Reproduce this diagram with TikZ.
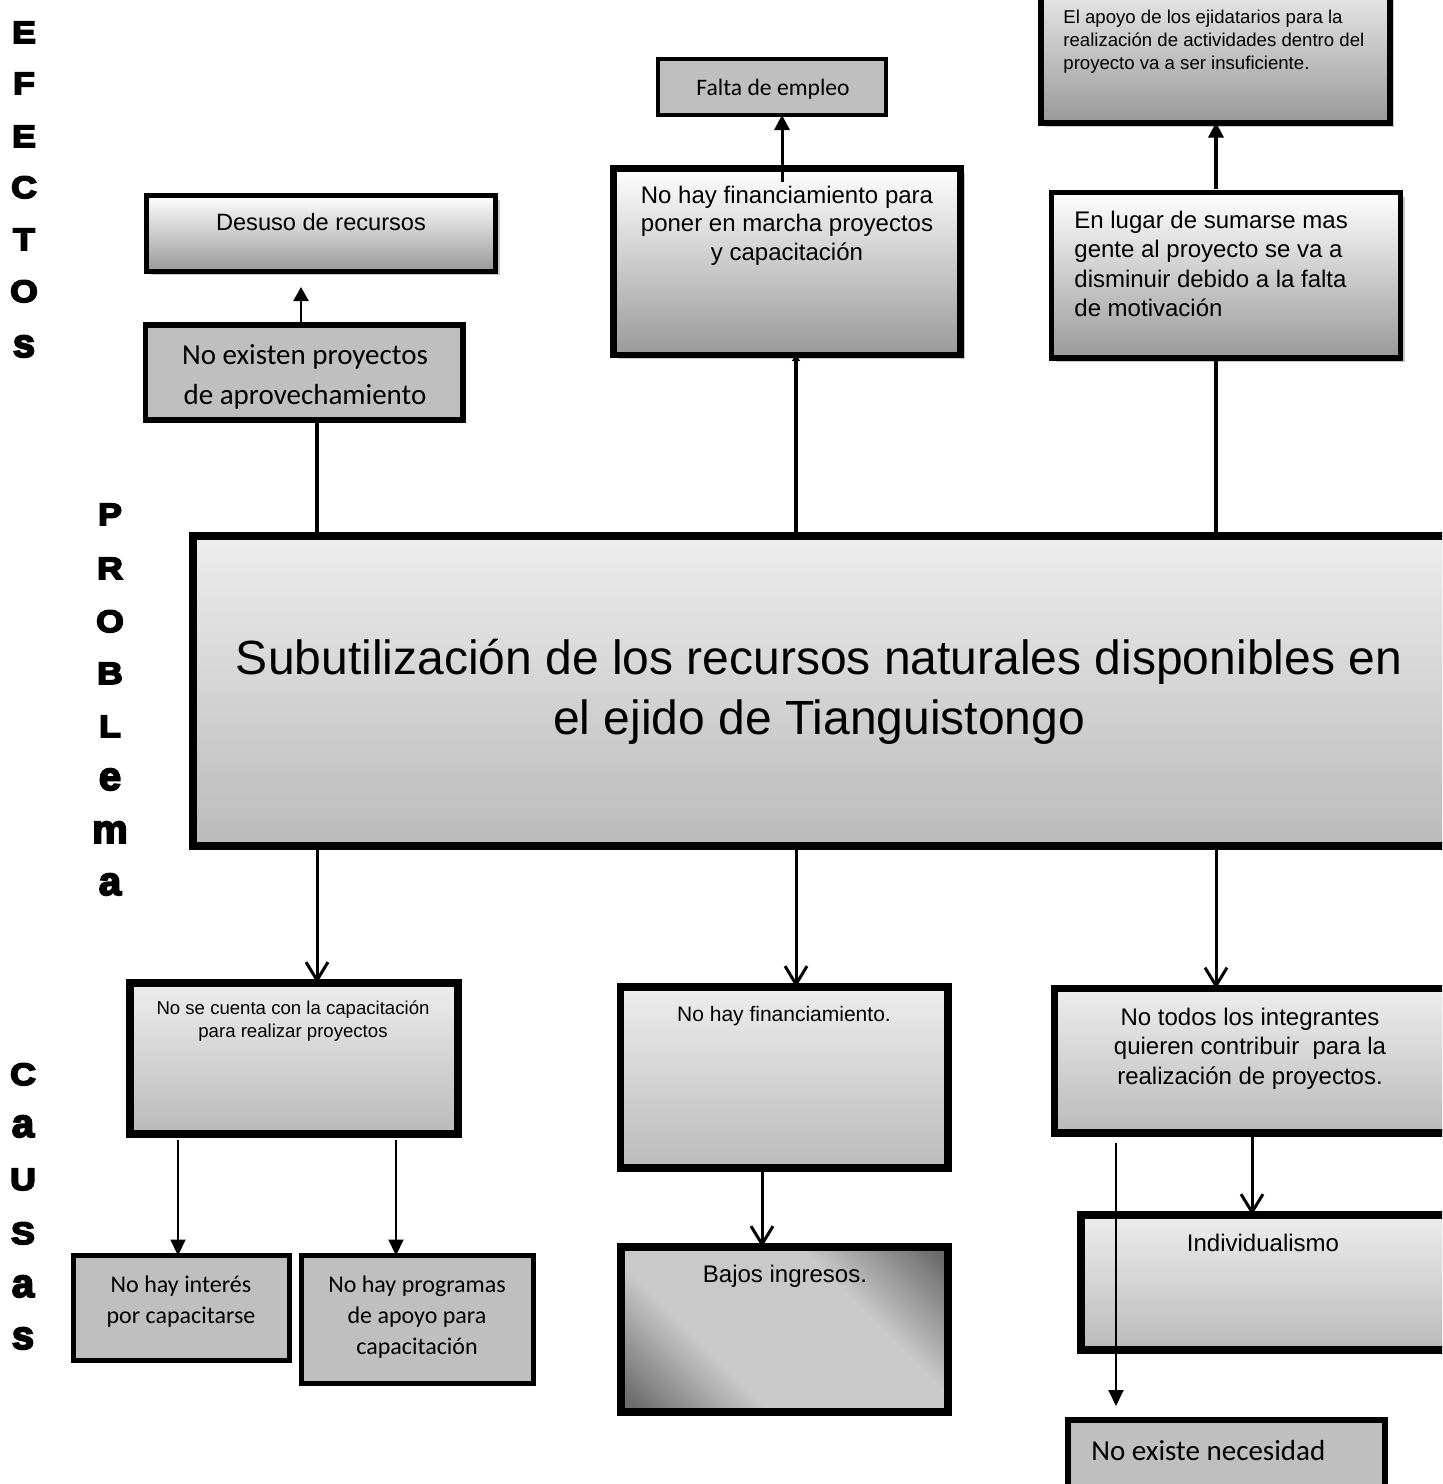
\documentclass[tikz,border=0pt]{standalone}
\usepackage{fontspec}
\setmainfont{Liberation Sans}
\newfontfamily\calfont{Carlito}
\newfontfamily\heavyfont{Liberation Sans}[BoldFeatures={FakeBold=5.5,FakeStretch=1.15}]
\newfontfamily\heavylow{Liberation Sans}[BoldFeatures={FakeBold=4.5}]
\usetikzlibrary{arrows.meta,calc,fit,shadows}
\newcommand\mylines[2][c]{\begin{tabular}[t]{@{}#1@{}}#2\end{tabular}}
\newcommand\setfs[2]{\fontsize{#1pt}{#2pt}\selectfont}
\pgfdeclareverticalshading{bajoshade}{100bp}{color(0bp)=(black!58); color(17bp)=(black!58); color(36bp)=(black!21); color(64bp)=(black!21); color(83bp)=(black!58); color(100bp)=(black!58)}
\tikzset{
  shadowed/.style={drop shadow={shadow xshift=2pt,shadow yshift=-2pt,fill=black!22,opacity=1}},
  boxbase/.style={draw=black, inner sep=0pt, outer sep=0pt},
  gradA/.style={boxbase, shadowed, top color=white, bottom color=black!40},
  gradB/.style={boxbase, shadowed, top color=black!7, bottom color=black!27},
  grayfill/.style={boxbase, fill=black!25},
  txt/.style={inner sep=0pt, anchor=base},
  txtl/.style={inner sep=0pt, anchor=base west},
  capl/.style={anchor=base, inner sep=0pt, font=\heavyfont\bfseries\setfs{15.5}{15.5}},
  lowl/.style={anchor=base, inner sep=0pt, font=\heavylow\bfseries\setfs{20}{20}},
  ln/.style={line width=1.65pt},
  barb/.style={line width=1.5pt, -{Straight Barb[length=9pt,width=11pt]}},
  tri/.style={line width=1.5pt, -{Triangle[length=7.5pt,width=7.5pt]}},
  thintri/.style={line width=1pt, -{Triangle[length=8pt,width=7.5pt]}},
}
\begin{document}
\begin{tikzpicture}[x=0.5pt,y=-0.5pt]
\clip (0,0) rectangle (1442,1484);
\fill[white] (0,0) rectangle (1442,1484);

% column coordinates
\coordinate (c317) at (317,0);
\coordinate (c301) at (301,0);
\coordinate (c796) at (796,0);
\coordinate (c782) at (782,0);
\coordinate (c1216) at (1216,0);
\coordinate (c178) at (178,0);
\coordinate (c396) at (396,0);
\coordinate (c762) at (762,0);
\coordinate (c1252) at (1252,0);
\coordinate (c1116) at (1116,0);

% side labels
\node[capl] (ef1) at (24,43) {E};
\node[capl] (ef2) at (24,94) {F};
\node[capl] (ef3) at (24,147) {E};
\node[capl] (ef4) at (24,198) {C};
\node[capl] (ef5) at (24,250) {T};
\node[capl] (ef6) at (24,302) {O};
\node[lowl] (ef7) at (24,357) {s};

\node[capl] (pr1) at (110,525) {P};
\node[capl] (pr2) at (110,579) {R};
\node[capl] (pr3) at (110,632) {O};
\node[capl] (pr4) at (110,684) {B};
\node[capl] (pr5) at (110,737) {L};
\node[lowl] (pr6) at (110,790) {e};
\node[lowl] (pr7) at (110,843) {m};
\node[lowl] (pr8) at (110,895) {a};

\node[capl] (ca1) at (23,1085) {C};
\node[lowl] (ca2) at (23,1137) {a};
\node[capl] (ca3) at (23,1190) {U};
\node[capl] (ca4) at (23,1244) {S};
\node[lowl] (ca5) at (23,1297) {a};
\node[lowl] (ca6) at (23,1349) {s};

% boxes
\node[gradA, line width=2.5pt, fit={(146.5,195.5) (495.5,271)}] (desuso) {};
\node[grayfill, line width=2.75pt, fit={(145.5,325) (463,420)}] (noex) {};
\node[grayfill, line width=1.75pt, fit={(658,59) (886,115)}] (falta) {};
\node[gradA, line width=3.25pt, fit={(613.5,168.5) (960.5,355)}] (finpara) {};
\node[gradA, line width=3pt, top color=black!2, fit={(1041,-40) (1389.5,122.5)}] (apoyo) {};
\node[gradA, line width=2.9pt, fit={(1051.5,192.5) (1400.5,358)}] (enlugar) {};
\node[gradB, line width=4pt, fit={(193,536) (1480,846)}] (main) {};
\node[gradB, line width=4pt, fit={(130,983) (458,1133.5)}] (nosecuenta) {};
\node[gradB, line width=3.75pt, fit={(620.5,987) (948,1168)}] (nohayfin) {};
\node[gradB, line width=3.75pt, fit={(1054.5,988.5) (1480,1133)}] (notodos) {};
\node[grayfill, line width=2.5pt, fit={(73.5,1255.5) (289,1360)}] (interes) {};
\node[grayfill, line width=2.5pt, fit={(301.5,1255.5) (533.5,1383.5)}] (programas) {};
\node[boxbase, shadowed, line width=4pt, shading=bajoshade, shading angle=-45, fit={(621,1247) (948,1412)}] (bajos) {};
\node[gradB, line width=4pt, fit={(1081,1215) (1480,1349.5)}] (indiv) {};
\node[grayfill, line width=3pt, fit={(1068,1420) (1385,1520)}] (noexiste) {};

% texts
\node[txt, font=\setfs{11.8}{14}] (tdesuso) at (321,230) {Desuso de recursos};
\node[txt, font=\calfont\setfs{14.5}{20}] (tnoex) at (305,364) {\mylines{No existen proyectos\\de aprovechamiento}};
\node[txt, font=\calfont\setfs{11.8}{14}] (tfalta) at (773,95) {Falta de empleo};
\node[txt, font=\setfs{12}{14.25}] (tfinpara) at (787,203) {\mylines{No hay financiamiento para\\poner en marcha proyectos\\y capacitación}};
\node[txtl, font=\setfs{9.3}{11.7}] (tapoyo) at (1063,23) {\mylines[l]{El apoyo de los ejidatarios para la\\realización de actividades dentro del\\proyecto va a ser insuficiente.}};
\node[txtl, font=\setfs{12}{14.8}] (tenlugar) at (1074,228) {\mylines[l]{En lugar de sumarse mas\\gente al proyecto se va a\\disminuir debido a la falta\\de motivación}};
\node[txt, font=\setfs{24}{30}] (ttitle) at (819,674) {\mylines{Subutilización de los recursos naturales disponibles en\\el ejido de Tianguistongo}};
\node[txt, font=\setfs{9.3}{11.5}] (tnosecuenta) at (293,1014) {\mylines{No se cuenta con la capacitación\\para realizar proyectos}};
\node[txt, font=\setfs{10.5}{13}] (tnohayfin) at (784,1021) {No hay financiamiento.};
\node[txt, font=\setfs{12}{14.75}] (tnotodos) at (1250,1025) {\mylines{No todos los integrantes\\quieren contribuir~ para la\\realización de proyectos.}};
\node[txt, font=\calfont\setfs{12}{15.5}] (tinteres) at (181,1292) {\mylines{No hay interés\\por capacitarse}};
\node[txt, font=\calfont\setfs{12}{15.5}] (tprogramas) at (417,1292) {\mylines{No hay programas\\de apoyo para\\capacitación}};
\node[txt, font=\setfs{12}{14}] (tbajos) at (785,1282) {Bajos ingresos.};
\node[txt, font=\setfs{12}{14}] (tindiv) at (1263,1251) {Individualismo};
\node[txtl, font=\calfont\setfs{14.5}{17}] (tnoexiste) at (1091,1460) {No existe necesidad};

% connectors: effects
\draw[ln] (c317 |- main.north) -- (c317 |- noex.south);
\draw[tri, line width=1.25pt, -{Triangle[length=7pt,width=7.5pt]}] (c301 |- noex.north) -- ($(c301 |- desuso.south)+(0,16)$);
\draw[ln, -{Triangle[length=3pt,width=4pt]}] (c796 |- main.north) -- (c796 |- finpara.south);
\draw[tri] ($(c782 |- finpara.north)+(0,13)$) -- (c782 |- falta.south);
\draw[ln] (c1216 |- main.north) -- (c1216 |- enlugar.south);
\draw[tri, line width=1.65pt] ($(c1216 |- enlugar.north)+(0,-4)$) -- (c1216 |- apoyo.south);

% connectors: causes
\draw[barb] (c317 |- main.south) -- (c317 |- nosecuenta.north);
\draw[barb] (c796 |- main.south) -- (c796 |- nohayfin.north);
\draw[barb] (c1216 |- main.south) -- (c1216 |- notodos.north);
\draw[thintri] ($(c178 |- nosecuenta.south)+(0,6)$) -- (c178 |- interes.north);
\draw[thintri] ($(c396 |- nosecuenta.south)+(0,6)$) -- (c396 |- programas.north);
\draw[barb] (c762 |- nohayfin.south) -- (c762 |- bajos.north);
\draw[barb] (c1252 |- notodos.south) -- (c1252 |- indiv.north);
\draw[thintri] ($(c1116 |- notodos.south)+(0,10)$) -- ($(c1116 |- noexiste.north)+(0,-14)$);
\end{tikzpicture}
\end{document}
